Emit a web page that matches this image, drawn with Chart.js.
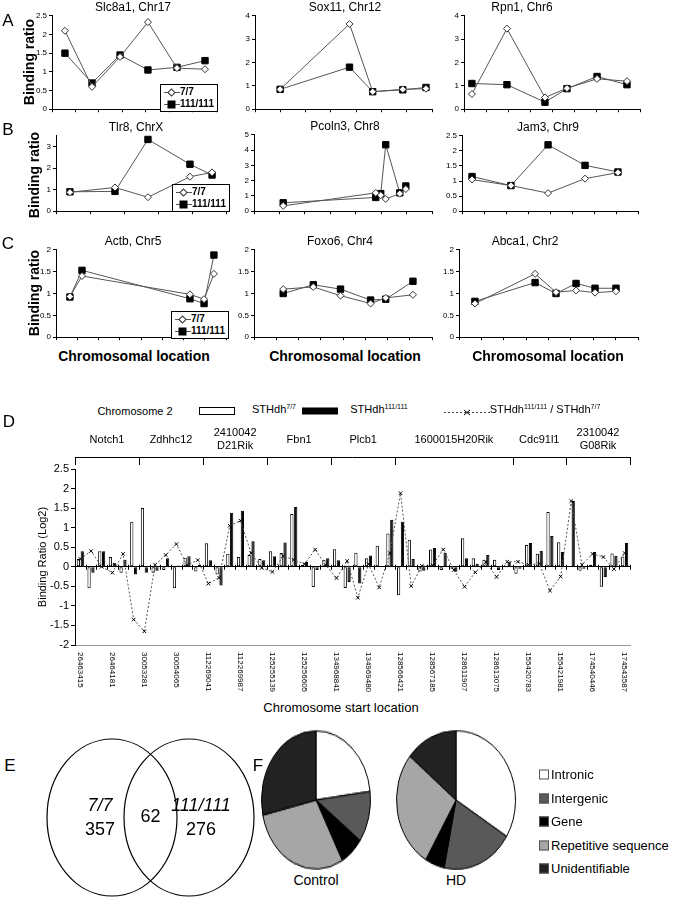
<!DOCTYPE html>
<html>
<head>
<meta charset="utf-8">
<script src="https://cdn.jsdelivr.net/npm/chart.js@4.4.1/dist/chart.umd.min.js"></script>
<style>
  body { margin: 0; background: #fff; font-family: "Liberation Sans", Arial, sans-serif; color: #000; }
  #page { position: relative; width: 673px; height: 899px; overflow: hidden; }
  #page canvas, .t { position: absolute; }
  .t { white-space: nowrap; line-height: 1; transform: translate(-50%, -50%); }
  .lgd { transform: none; border: 1px solid #000; background: #fff; font-size: 10px; font-weight: bold; padding: 1px 3px; line-height: 12px; }
  .lgd svg { vertical-align: middle; }
  sup { font-size: 7px; }
</style>
</head>
<body>
<div id="page"></div>
<script>
// ---------- data ----------
const series = ['7/7', '111/111'];

// panels A-C : x = position along the region (% of axis), y = binding ratio
const slc8a1X = [7.9, 24.4, 41.5, 58.5, 76.2, 93.3];
const slc8a1A = [2.1, 0.6, 1.4, 2.33, 1.1, 1.07];
const slc8a1B = [1.5, 0.7, 1.45, 1.05, 1.12, 1.3];

const sox11X = [14.2, 53.4, 66.5, 83.5, 96.6];
const sox11A = [0.85, 3.65, 0.75, 0.85, 0.88];
const sox11B = [0.85, 1.8, 0.75, 0.83, 0.93];

const rpn1X = [4.5, 24.4, 46, 58.5, 75.6, 92.6];
const rpn1A = [0.65, 3.45, 0.5, 0.9, 1.3, 1.2];
const rpn1B = [1.1, 1.05, 0.3, 0.88, 1.4, 1.05];

const tlr8X = [8.2, 34.7, 54.1, 78.8, 91.8];
const tlr8A = [0.88, 1.1, 0.65, 1.6, 1.8];
const tlr8B = [0.9, 0.92, 3.33, 2.18, 1.68];

const pcoln3X = [16.4, 68.4, 71.2, 74, 81.9, 85.3];
const pcoln3A = [0.35, 1.2, 1.05, 0.8, 1.15, 1.45];
const pcoln3B = [0.55, 0.9, 1.15, 4.35, 1.2, 1.65];

const jam3X = [5.7, 27.8, 48.9, 69.9, 88.6];
const jam3A = [1.05, 0.85, 0.6, 1.08, 1.28];
const jam3B = [1.15, 0.85, 2.2, 1.52, 1.3];

const actbX = [8.2, 15.3, 78.8, 87.1, 92.9];
const actbA = [0.93, 1.4, 0.98, 0.87, 1.45];
const actbB = [0.92, 1.53, 0.88, 0.77, 1.88];

const foxo6X = [16.4, 33.3, 48.6, 65.5, 74, 89.3];
const foxo6A = [1.1, 1.15, 0.95, 0.77, 0.9, 0.97];
const foxo6B = [1.0, 1.2, 1.1, 0.85, 0.87, 1.28];

const abca1X = [8.9, 42.5, 54.2, 65.4, 76, 87.7];
const abca1A = [0.77, 1.45, 1.03, 1.07, 1.02, 1.05];
const abca1B = [0.82, 1.25, 1.0, 1.23, 1.12, 1.12];

// panel D : chromosome 2 probes, log2 binding ratio
const startLabels = ['26463415', '26464181', '30053281', '30054065', '112269041', '112269987',
  '125255139', '125256605', '134968841', '134969480', '128566421', '128567185',
  '128611907', '128613075', '155420783', '155421981', '174540446', '174543587'];
const wtBars = [0.2, -0.55, 0.4, 0.25, -0.15, 1.15, 1.5, -0.15, -0.08, -0.55, 0.23, -0.12, 0.6,
  -0.2, 0.33, 0.25, 0.3, 0.2, 0.4, 0.35, 1.35, 0.05, -0.52, 0.18, 0.45, -0.54, 0.36, 0.22, 0.54,
  0.85, -0.73, 0.69, -0.12, 0.44, -0.08, -0.05, 0.73, 0.22, 0.18, 0.18, 0.02, -0.18, 0.56, 0.33,
  1.4, 0.63, 0.0, -0.1, 0.05, -0.51, 0.34, 0.26];
const hdBars = [0.4, -0.15, 0.4, 0.1, 0.18, -0.2, -0.15, -0.1, 0.22, 0.03, 0.27, 0.05, 0.17,
  -0.48, 1.38, 1.43, 0.65, 0.17, 0.27, 0.62, 1.53, 0.12, -0.08, 0.22, 0.17, -0.39, -0.43, 0.29,
  0.01, 1.2, 1.15, 0.2, -0.1, 0.48, 0.36, -0.13, 0.22, 0.08, 0.3, -0.08, 0.13, -0.05, 0.61, 0.41,
  0.79, 0.38, 1.68, -0.05, 0.38, -0.26, 0.28, 0.61];
const ratioLine = [0.2, 0.4, 0, -0.15, 0.33, -1.35, -1.65, 0.05, 0.3, 0.58, 0.04, 0.17, -0.43,
  -0.28, 1.05, 1.18, 0.35, -0.03, -0.13, 0.27, 0.18, 0.07, 0.44, 0.04, -0.29, 0.15, -0.79, 0.07,
  -0.53, 0.35, 1.88, -0.49, 0.02, 0.04, 0.44, -0.08, -0.51, -0.14, 0.12, -0.26, 0.13, 0.13, 0.05,
  0.08, -0.61, -0.25, 1.68, 0.05, 0.33, 0.25, -0.06, 0.35];
const genes = ['Notch1', 'Zdhhc12', '2410042\nD21Rik', 'Fbn1', 'Plcb1', '1600015H20Rik', 'Cdc91l1', '2310042\nG08Rik'];
const geneStart = [0, 6, 12, 18, 24, 30, 41, 46, 52];

// panel E
const vennNames = ['7/7', '111/111'];
const vennOnly = [357, 276];
const vennShared = 62;

// panel F
const pieLabels = ['Intronic', 'Intergenic', 'Gene', 'Repetitive sequence', 'Unidentifiable'];
const controlPct = [23, 12, 7, 29.5, 28.5];
const hdPct = [33.8, 19.4, 5.3, 27.4, 14.1];
const pieColors = ['#ffffff', '#595959', '#000000', '#a6a6a6', '#222222'];

// ---------- helpers ----------
const page = document.getElementById('page');
function mk(x, y, w, h) {
  const c = document.createElement('canvas');
  c.width = w; c.height = h;
  c.style.left = x + 'px'; c.style.top = y + 'px';
  page.appendChild(c);
  return c;
}
function put(html, x, y, css) {
  const d = document.createElement('div');
  d.className = 't';
  d.innerHTML = html;
  d.style.left = x + 'px'; d.style.top = y + 'px';
  Object.assign(d.style, css || {});
  page.appendChild(d);
  return d;
}
const noPlug = { legend: { display: false }, tooltip: { enabled: false } };
const fmt = v => String(v);

// ---------- panels A-C ----------
function lineChart(p) {
  const yw = 24, pad = 6;
  const cv = mk(p.axis - yw, p.top - pad, p.right - p.axis + yw + pad, p.zero - p.top + pad * 2);
  new Chart(cv, {
    type: 'scatter',
    data: {
      datasets: [
        { label: series[0], data: p.x.map((x, i) => ({ x, y: p.a[i] })), showLine: true,
          borderColor: '#555', borderWidth: 1, pointStyle: 'rectRot', pointRadius: 3.5,
          pointBackgroundColor: '#fff', pointBorderColor: '#333', pointBorderWidth: 1, clip: false, order: 1 },
        { label: series[1], data: p.x.map((x, i) => ({ x, y: p.b[i] })), showLine: true,
          borderColor: '#555', borderWidth: 1, pointStyle: 'rect', pointRadius: 4.5,
          pointBackgroundColor: '#000', pointBorderColor: '#000', clip: false, order: 2 }
      ]
    },
    options: {
      responsive: false, animation: false,
      layout: { padding: { top: pad, right: pad, left: 0, bottom: 0 }, autoPadding: false },
      plugins: noPlug,
      scales: {
        x: { type: 'linear', min: 0, max: 100,
          ticks: { display: false, stepSize: 100 / p.n },
          grid: { drawOnChartArea: false, tickLength: 3, color: '#000' },
          border: { color: '#000' },
          afterFit: s => { s.height = pad; } },
        y: { min: 0, max: p.max,
          ticks: { stepSize: p.step, callback: fmt, color: '#000', font: { size: 8, family: 'Liberation Sans' }, padding: 2 },
          grid: { drawOnChartArea: false, tickLength: 3, color: '#000' },
          border: { color: '#000' },
          afterFit: s => { s.width = yw; } }
      }
    }
  });
  put(p.title, p.tx, p.top - 8, { fontSize: '12px' });
}

const lineCharts = [
  { title: 'Slc8a1, Chr17', x: slc8a1X, a: slc8a1A, b: slc8a1B, max: 2.5, step: 0.5, n: 7, axis: 52, right: 216, top: 15, zero: 110, tx: 133 },
  { title: 'Sox11, Chr12', x: sox11X, a: sox11A, b: sox11B, max: 4, step: 0.5, n: 7, axis: 255, right: 432, top: 15, zero: 110, tx: 345 },
  { title: 'Rpn1, Chr6', x: rpn1X, a: rpn1A, b: rpn1B, max: 4, step: 0.5, n: 8, axis: 464, right: 640, top: 15, zero: 110, tx: 522 },
  { title: 'Tlr8, ChrX', x: tlr8X, a: tlr8A, b: tlr8B, max: 3.5, step: 0.5, n: 5, axis: 56, right: 226, top: 135, zero: 212, tx: 136 },
  { title: 'Pcoln3, Chr8', x: pcoln3X, a: pcoln3A, b: pcoln3B, max: 5, step: 1, n: 7, axis: 254, right: 432, top: 134, zero: 212, tx: 345 },
  { title: 'Jam3, Chr9', x: jam3X, a: jam3A, b: jam3B, max: 2.5, step: 0.5, n: 8, axis: 462, right: 638, top: 135, zero: 212, tx: 548 },
  { title: 'Actb, Chr5', x: actbX, a: actbA, b: actbB, max: 2, step: 0.5, n: 8, axis: 56, right: 226, top: 249, zero: 338, tx: 133 },
  { title: 'Foxo6, Chr4', x: foxo6X, a: foxo6A, b: foxo6B, max: 2, step: 0.5, n: 8, axis: 254, right: 432, top: 249, zero: 338, tx: 340 },
  { title: 'Abca1, Chr2', x: abca1X, a: abca1A, b: abca1B, max: 2, step: 0.5, n: 8, axis: 459, right: 638, top: 249, zero: 338, tx: 525 }
];
lineCharts.forEach(lineChart);

const symOpen = '<svg width="16" height="9"><line x1="0" y1="4.5" x2="16" y2="4.5" stroke="#555"/><rect x="5" y="2" width="5" height="5" transform="rotate(45 7.5 4.5)" fill="#fff" stroke="#333"/></svg>';
const symFill = '<svg width="16" height="9"><line x1="0" y1="4.5" x2="16" y2="4.5" stroke="#555"/><rect x="3.5" y="0.5" width="8" height="8" fill="#000"/></svg>';
function lineLegend(x, y) {
  const d = put(symOpen + series[0] + '<br>' + symFill + series[1], x, y);
  d.className = 't lgd';
}
lineLegend(160, 84);
lineLegend(172, 184);
lineLegend(171, 311);

[['A', 8, 20], ['B', 8, 129], ['C', 8, 243]].forEach(l => put(l[0], l[1], l[2], { fontSize: '17px' }));
[[62, 29], [175, 34], [293, 34]].forEach(p => put('Binding ratio', p[1], p[0], { fontSize: '14px', fontWeight: 'bold', transform: 'translate(-50%,-50%) rotate(-90deg)' }));
[134, 345, 548].forEach(x => put('Chromosomal location', x, 356, { fontSize: '14px', fontWeight: 'bold' }));

// ---------- panel D ----------
const nCat = wtBars.length;
const catLabels = wtBars.map((v, i) => (i % 3 === 0 ? startLabels[i / 3] : ''));
const dExtras = {
  id: 'dExtras',
  afterDraw(c) {
    const { ctx, chartArea: a } = c;
    const xs = c.scales.x, ys = c.scales.y;
    const step = a.width / nCat;
    const y0 = ys.getPixelForValue(0);
    ctx.save();
    ctx.strokeStyle = '#000'; ctx.lineWidth = 1;
    ctx.beginPath();
    for (let i = 0; i <= nCat; i++) {
      const x = Math.round(a.left + i * step) + 0.5;
      ctx.moveTo(x, y0 - 2); ctx.lineTo(x, y0 + 3);
    }
    ctx.stroke();
    // rotated start locations
    ctx.fillStyle = '#000';
    ctx.font = '8px "Liberation Sans"';
    ctx.textAlign = 'left'; ctx.textBaseline = 'middle';
    catLabels.forEach((t, i) => {
      if (!t) return;
      ctx.save();
      ctx.translate(xs.getPixelForValue(i), a.bottom + 7);
      ctx.rotate(Math.PI / 2);
      ctx.fillText(t, 0, 0);
      ctx.restore();
    });
    // gene brackets
    const yb = a.top - 12;
    ctx.font = '11px "Liberation Sans"';
    ctx.textAlign = 'center';
    ctx.beginPath();
    geneStart.forEach(s => {
      const x = Math.round(a.left + s * step) + 0.5;
      ctx.moveTo(x, yb); ctx.lineTo(x, yb + 8);
    });
    ctx.moveTo(a.left, yb + 0.5); ctx.lineTo(a.left + nCat * step, yb + 0.5);
    ctx.stroke();
    genes.forEach((g, i) => {
      const xm = a.left + (geneStart[i] + geneStart[i + 1]) / 2 * step;
      const lines = g.split('\n');
      if (lines.length === 1) ctx.fillText(g, xm, yb - 17);
      else { ctx.fillText(lines[0], xm, yb - 24); ctx.fillText(lines[1], xm, yb - 11); }
    });
    ctx.restore();
  }
};
new Chart(mk(36, 425, 604, 268), {
  type: 'bar',
  data: {
    labels: catLabels,
    datasets: [
      { type: 'line', label: 'ratio', data: ratioLine, borderColor: '#555', borderWidth: 1, borderDash: [2, 2],
        pointStyle: 'crossRot', pointRadius: 2.5, pointBorderColor: '#000', pointBorderWidth: 1, order: 0 },
      { label: series[0], data: wtBars, backgroundColor: '#fff', borderColor: '#000', borderWidth: 1, borderSkipped: false, order: 1 },
      { label: series[1], data: hdBars, backgroundColor: '#000', borderColor: '#000', borderWidth: 1, borderSkipped: false, order: 2 }
    ]
  },
  options: {
    responsive: false, animation: false,
    layout: { padding: { top: 44, right: 10, left: 0, bottom: 0 }, autoPadding: false },
    datasets: { bar: { categoryPercentage: 0.72, barPercentage: 0.85 } },
    plugins: noPlug,
    scales: {
      x: { ticks: { display: false }, grid: { display: false }, border: { color: '#999' },
        afterFit: s => { s.height = 48; } },
      y: { min: -2, max: 2.5,
        ticks: { stepSize: 0.5, callback: fmt, color: '#000', font: { size: 11, family: 'Liberation Sans' }, padding: 2 },
        grid: { color: ctx => (ctx.tick && ctx.tick.value === 0 ? '#000' : 'rgba(0,0,0,0)'), tickColor: '#000', tickLength: 4 },
        border: { color: '#000' },
        title: { display: true, text: 'Binding Ratio (Log2)', color: '#000', font: { size: 11, family: 'Liberation Sans' }, padding: 0 },
        afterFit: s => { s.width = 39; } }
    }
  },
  plugins: [dExtras]
});
put('D', 9, 421, { fontSize: '17px' });
put('Chromosome 2', 135, 411, { fontSize: '11px' });
put('', 217, 411, { width: '34px', height: '6px', border: '1px solid #000', background: '#fff' });
put('STHdh<sup>7/7</sup>', 274, 409, { fontSize: '11px' });
put('', 320, 411, { width: '36px', height: '7px', background: '#000' });
put('STHdh<sup>111/111</sup>', 379, 409, { fontSize: '11px' });
put('<svg width="46" height="9"><line x1="0" y1="4.5" x2="46" y2="4.5" stroke="#444" stroke-dasharray="2,2"/><path d="M20 2 L26 7 M26 2 L20 7" stroke="#000"/></svg>', 467, 412);
put('STHdh<sup>111/111</sup> / STHdh<sup>7/7</sup>', 545, 409, { fontSize: '11px' });
put('Chromosome start location', 341, 707, { fontSize: '13px' });

// ---------- panel E ----------
const vennPlug = {
  id: 'venn',
  afterDraw(c) {
    const { ctx, width, height } = c;
    const rx = 65, ry = height / 2 - 2, cy = height / 2;
    const cl = rx + 1, cr = width - rx - 1;
    ctx.save();
    ctx.strokeStyle = '#000'; ctx.lineWidth = 1.2;
    [cl, cr].forEach(cx => { ctx.beginPath(); ctx.ellipse(cx, cy, rx, ry, 0, 0, Math.PI * 2); ctx.stroke(); });
    ctx.fillStyle = '#000'; ctx.textAlign = 'center'; ctx.textBaseline = 'middle';
    ctx.font = 'italic 18px "Liberation Sans"';
    ctx.fillText(vennNames[0], cl - 12, cy - 12);
    ctx.fillText(vennNames[1], cr + 12, cy - 12);
    ctx.font = '18px "Liberation Sans"';
    ctx.fillText(vennOnly[0], cl - 12, cy + 13);
    ctx.fillText(vennOnly[1], cr + 12, cy + 13);
    ctx.fillText(vennShared, (cl + cr) / 2, cy);
    ctx.restore();
  }
};
new Chart(mk(46, 737, 209, 161), {
  type: 'scatter', data: { datasets: [] },
  options: { responsive: false, animation: false, plugins: noPlug, scales: { x: { display: false }, y: { display: false } } },
  plugins: [vennPlug]
});
put('E', 10, 765, { fontSize: '17px' });

// ---------- panel F ----------
function pie(vals, cx, w, name) {
  const cv = mk(cx - w / 2, 729, w, w);
  cv.style.transform = 'scaleY(' + (142 / w) + ')';
  cv.style.transformOrigin = 'top';
  new Chart(cv, {
    type: 'pie',
    data: { labels: pieLabels, datasets: [{ data: vals, backgroundColor: pieColors, borderColor: '#000', borderWidth: 1 }] },
    options: { responsive: false, animation: false, plugins: noPlug, layout: { padding: 1 } }
  });
  put(name, cx, 880, { fontSize: '14px' });
}
pie(controlPct, 316, 112, 'Control');
pie(hdPct, 456, 122, 'HD');
put('F', 258, 765, { fontSize: '17px' });
pieLabels.forEach((l, i) => {
  put('<span style="display:inline-block;width:8px;height:8px;border:1px solid #555;margin-right:2px;vertical-align:-1px;background:' + pieColors[i] + '"></span>' + l,
    539, 774 + i * 23.5, { fontSize: '13px', transform: 'translate(0,-50%)' });
});
</script>
</body>
</html>
